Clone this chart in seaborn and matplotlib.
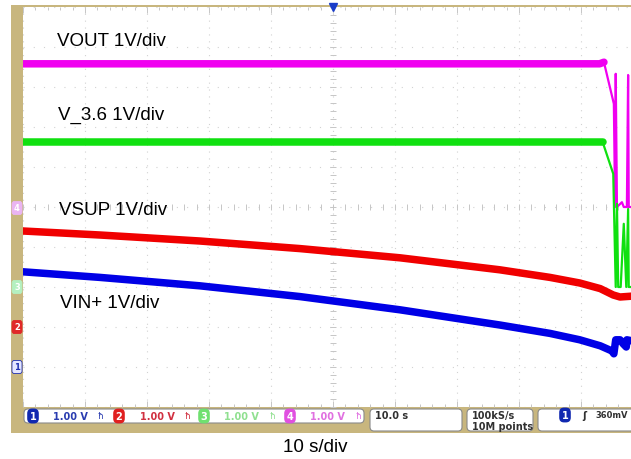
import matplotlib
matplotlib.use("Agg")
import numpy as np
import pandas as pd
import matplotlib.pyplot as plt
from matplotlib.patches import FancyBboxPatch, Rectangle
from matplotlib.transforms import IdentityTransform
import seaborn as sns

# Capture data: time in s (10 s/div), amplitude in V (1 V/div)
vout_t = [0, 30, 60, 93.0, 93.7, 95.3, 95.5, 95.6, 95.8, 96.6, 96.9, 97.4, 97.6, 97.7, 99]
vout_v = [3.58, 3.58, 3.58, 3.58, 3.62, 2.58, 0.0, 3.33, 0.0, 0.12, 0.0, 0.0, 3.3, 0.0, 0.0]

v36_t = [0, 30, 60, 93.5, 95.2, 95.6, 95.8, 96.0, 96.4, 96.9, 97.3, 97.6, 97.7, 99]
v36_v = [3.62, 3.62, 3.62, 3.62, 2.83, 0.0, 2.08, 0.0, 0.0, 1.58, 0.0, 1.95, 0.0, 0.0]

vsup_t = [0, 12.4, 28.5, 44.7, 60.8, 76.9, 85.0, 89.8, 93.1, 95.2, 96.3, 99]
vsup_v = [2.40, 2.30, 2.15, 1.96, 1.73, 1.43, 1.24, 1.10, 0.96, 0.80, 0.75, 0.78]

vin_t = [0, 12.4, 28.5, 44.7, 60.8, 76.9, 85.0, 89.8, 93.1, 95.0, 95.3, 95.6, 96.3, 96.8, 97.3, 97.4, 99]
vin_v = [2.38, 2.24, 2.03, 1.76, 1.43, 1.05, 0.84, 0.68, 0.53, 0.40, 0.33, 0.68, 0.68, 0.58, 0.50, 0.68, 0.63]

labels = ["VOUT 1V/div", "V_3.6 1V/div", "VSUP 1V/div", "VIN+ 1V/div"]
ch_scale = ["1.00 V", "1.00 V", "1.00 V", "1.00 V"]
timebase = "10.0 s"
sample_rate = "100kS/s"
record_len = "10M points"
trig_level = "360mV"
x_caption = "10 s/div"

W, H = 631, 460
TAN = "#c8b67e"

sns.set_theme(style="white")
plt.rcParams['font.family'] = ['Liberation Sans', 'DejaVu Sans']

fig = plt.figure(figsize=(W / 100, H / 100), dpi=100)
fig.patch.set_facecolor("white")


def fx(x):
    return x / W


def fy(y):
    return 1 - y / H


# tan scope frame
fig.add_artist(Rectangle((11, H - 434), 620, 428, transform=IdentityTransform(),
                         facecolor=TAN, edgecolor="none", zorder=-5))

ax = fig.add_axes([fx(23), fy(408), 620 / W, 400 / H])
ax.set_facecolor("white")
ax.set_xlim(0, 100)
ax.set_ylim(-5, 5)
for s in ax.spines.values():
    s.set_visible(False)

# graticule
grid_c = "#d2d2d2"
for t in range(0, 101, 10):
    ax.axvline(t, color=grid_c, lw=0.8, ls=(0, (1, 5.2)), zorder=0)
for v in range(-5, 6):
    ax.axhline(v, color=grid_c, lw=0.8, ls=(0, (1, 8.2)), zorder=0)
ax.plot(np.full(50, 50.0), np.arange(-5, 5, 0.2), ls="none", marker="_", ms=4,
        color="#c6c6c6", mew=0.7, zorder=0)
ax.plot(np.arange(0, 100, 2), np.zeros(50), ls="none", marker="|", ms=4,
        color="#c6c6c6", mew=0.7, zorder=0)
ax.set_xticks(np.arange(0, 101, 10))
ax.set_xticks(np.arange(0, 101, 2), minor=True)
ax.set_yticks(np.arange(-5, 6, 1))
ax.set_yticks(np.arange(-5, 5.01, 0.2), minor=True)
ax.tick_params(which="both", direction="in", top=True, bottom=True, left=False, right=False,
               labelbottom=False, labelleft=False, color="#c6c6c6", width=0.7)
ax.tick_params(which="major", length=4)
ax.tick_params(which="minor", length=2)

# traces: (time, volts, ground offset in div, colour, end of noisy band)
traces = [
    (vout_t, vout_v, 0, "#f000f0", 93.7),
    (v36_t, v36_v, -2, "#10e010", 93.5),
    (vsup_t, vsup_v, -3, "#f00000", 100),
    (vin_t, vin_v, -4, "#0000e6", 100),
]
for t, v, off, col, noisy_end in traces:
    df = pd.DataFrame({"t": t, "y": np.array(v) + off})
    sns.lineplot(data=df, x="t", y="y", ax=ax, color=col, lw=1.6,
                 estimator=None, sort=False, zorder=3)
    thick = df[df["t"] <= noisy_end]
    sns.lineplot(data=thick, x="t", y="y", ax=ax, color=col, lw=5.4,
                 estimator=None, sort=False, zorder=4)
ax.set_xlabel("")
ax.set_ylabel("")

# trigger position marker
ax.plot([50], [5], marker="v", color="#1a3cc8", ms=6, clip_on=False, zorder=6)

# trace labels
for lab, (lx, ly) in zip(labels, [(57, 41), (58, 115), (59, 211), (60, 304)]):
    fig.text(fx(lx), fy(ly), lab, fontsize=13.5, va="center", ha="left", color="black")

# ground markers on the left strip
gnd = [("4", 209, "#eab4f2", "white", "#eab4f2"), ("3", 288, "#b4f0c0", "white", "#b4f0c0"),
       ("2", 328, "#e02828", "white", "#e02828"), ("1", 368, "#e4e6ff", "#2030b0", "#2030b0")]
for num, gy, fc, tc, ec in gnd:
    fig.text(fx(17), fy(gy), num, fontsize=6, fontweight="bold", color=tc, ha="center",
             va="center", family="DejaVu Sans",
             bbox=dict(boxstyle="round,pad=0.25,rounding_size=0.3", fc=fc, ec=ec, lw=0.6))


def box(x0, y0, x1, y1):
    fig.add_artist(FancyBboxPatch((x0, H - y1), x1 - x0, y1 - y0,
                                  boxstyle="round,pad=0,rounding_size=4",
                                  transform=IdentityTransform(), fc="white",
                                  ec="#8a8a8a", lw=0.8, zorder=2))


box(24, 410, 364, 424)
box(370, 410, 462, 432)
box(467, 410, 533, 432)
box(538, 410, 660, 432)

sfont = dict(fontsize=7, fontweight="bold", family="DejaVu Sans", va="center", zorder=5)
chans = [(33, 53, 100, "#1028b0", "#2a3cb0", "1"), (119, 140, 187, "#e02020", "#d03040", "2"),
         (204, 224, 272, "#70e070", "#90e090", "3"), (290, 310, 358, "#e050e0", "#e070e0", "4")]
for (ox, tx, ix, oc, tcol, num), sc in zip(chans, ch_scale):
    fig.text(fx(ox), fy(417), num, color="white", ha="center",
             bbox=dict(boxstyle="round,pad=0.25,rounding_size=0.5", fc=oc, ec="none"), **sfont)
    fig.text(fx(tx), fy(417), sc, color=tcol, ha="left", **sfont)
    fig.text(fx(ix), fy(417), "ħ", color=tcol, ha="center", fontsize=6, family="DejaVu Sans",
             va="center", zorder=5)

fig.text(fx(375), fy(416), timebase, color="#303030", ha="left", **sfont)
fig.text(fx(472), fy(416), sample_rate, color="#303030", ha="left", **sfont)
fig.text(fx(472), fy(427), record_len, color="#303030", ha="left", **sfont)
fig.text(fx(565), fy(416), "1", color="white", ha="center",
         bbox=dict(boxstyle="round,pad=0.25,rounding_size=0.5", fc="#1028b0", ec="none"), **sfont)
fig.text(fx(584), fy(416), "ʃ", color="#303030", ha="center", **sfont)
fig.text(fx(595), fy(416), trig_level, color="#303030", ha="left",
         **{**sfont, "fontsize": 6.0})

fig.text(fx(315), fy(448), x_caption, fontsize=13.5, ha="center", va="center", color="black")

fig.savefig("out.png", dpi=100)
